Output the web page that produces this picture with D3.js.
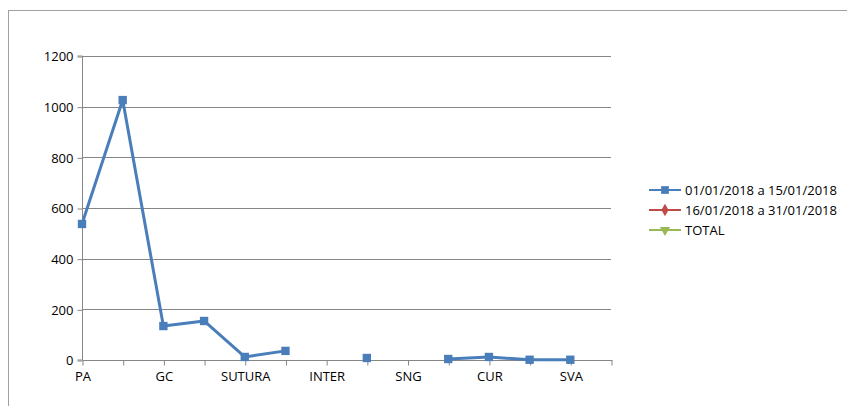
<!DOCTYPE html>
<html><head><meta charset="utf-8">
<script src="https://cdn.jsdelivr.net/npm/d3@7"></script>
<style>body{margin:0;background:#fff}svg{display:block}text{font-family:"Open Sans","Noto Sans",sans-serif;fill:#000}</style>
</head><body><svg id="c" width="847" height="406"></svg>
<script>
const categories = ["PA","","GC","","SUTURA","","INTER","","SNG","","CUR","","SVA",""];
const series1 = [537,1026,134,154,12,36,null,8,null,4,12,1,1,null];
const series2 = [null,null,null,null,null,null,null,null,null,null,null,null,null,null];
const series3 = [null,null,null,null,null,null,null,null,null,null,null,null,null,null];
const seriesNames = ["01/01/2018 a 15/01/2018","16/01/2018 a 31/01/2018","TOTAL"];
const seriesColors = ["#4A7EBB","#BE4B48","#98B954"];
const yTicks = [0,200,400,600,800,1000,1200];

const svg = d3.select("#c");
svg.append("rect").attr("x",8.5).attr("y",10.5).attr("width",900).attr("height",500)
  .attr("fill","none").attr("stroke","#a0a0a0").attr("stroke-width",1);

const L=82, R=611, T=56, B=360;
const x = d3.scalePoint().domain(d3.range(categories.length)).range([L, R]);
const y = d3.scaleLinear().domain([0,1200]).range([B,T]);

// gridlines
svg.append("g").selectAll("line").data(yTicks.filter(d=>d>0)).join("line")
  .attr("x1",L).attr("x2",R).attr("y1",d=>Math.round(y(d))+0.5).attr("y2",d=>Math.round(y(d))+0.5)
  .attr("stroke","#868686").attr("stroke-width",1);

// y axis
const ya = svg.append("g").attr("transform",`translate(${L+0.5},0.5)`)
  .call(d3.axisLeft(y).tickValues(yTicks).tickSize(5).tickPadding(4).tickFormat(d3.format("d")));
ya.select(".domain").attr("stroke","#868686").attr("d",`M-5,${B-0.5}H0V${T-0.5}H-5`);
ya.selectAll("line").attr("stroke","#868686");
ya.selectAll("text").attr("font-size",13).attr("font-family",'"Open Sans",sans-serif');

// x axis
const xa = svg.append("g").attr("transform",`translate(0.5,${B+0.5})`)
  .call(d3.axisBottom(x).tickSize(5).tickPadding(6).tickFormat(i=>categories[i]));
xa.select(".domain").attr("stroke","#868686").attr("d",`M${L},0H${R+1}`);
xa.selectAll("line").attr("stroke","#868686");
xa.selectAll("text").attr("font-size",13).attr("font-family",'"Open Sans",sans-serif');

const allSeries=[series1,series2,series3];
const line = d3.line().defined(d=>d[1]!=null).x(d=>x(d[0])).y(d=>y(d[1]));
allSeries.forEach((s,k)=>{
  const pts = s.map((v,i)=>[i,v]);
  svg.append("path").datum(pts).attr("d",line).attr("fill","none")
    .attr("stroke",seriesColors[k]).attr("stroke-width",3).attr("stroke-linejoin","round");
  const valid = pts.filter(d=>d[1]!=null);
  const sym = [d3.symbolSquare,d3.symbolDiamond,d3.symbolTriangle][k];
  svg.append("g").selectAll("path").data(valid).join("path")
    .attr("d",d3.symbol().type(sym).size(70))
    .attr("transform",d=>`translate(${x(d[0])},${y(d[1])})${k==2?" rotate(180)":""}`)
    .attr("fill",seriesColors[k]);
});

// legend
const lg = svg.append("g");
seriesNames.forEach((n,k)=>{
  const yy = 190 + k*20;
  lg.append("line").attr("x1",649).attr("x2",681).attr("y1",yy).attr("y2",yy)
    .attr("stroke",seriesColors[k]).attr("stroke-width",2);
  const sym = [d3.symbolSquare,d3.symbolDiamond,d3.symbolTriangle][k];
  lg.append("path").attr("d",d3.symbol().type(sym).size(k==0?60:45))
    .attr("transform",`translate(665,${yy})${k==2?" rotate(180)":""}`).attr("fill",seriesColors[k]);
  lg.append("text").attr("x",685).attr("y",yy).attr("dy","0.35em").attr("font-size",13).text(n);
});
</script></body></html>
